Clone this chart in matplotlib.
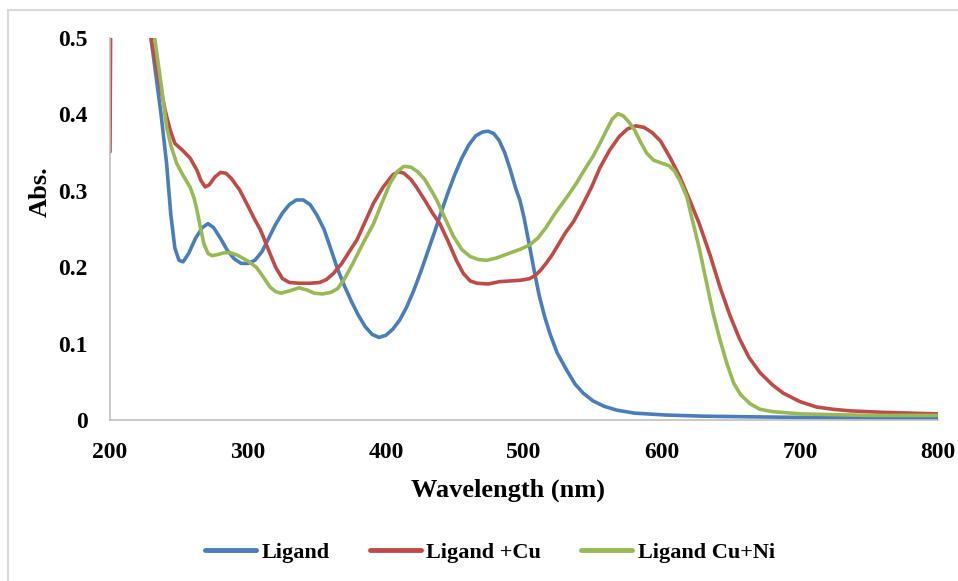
import matplotlib.pyplot as plt
import matplotlib.patches as patches

# UV-Vis spectra
wl_ligand = [215, 225, 230, 233, 237, 241, 244, 247, 250, 253, 257, 262, 267, 271, 275, 280, 285, 290,
             295, 300, 305, 310, 315, 320, 325, 330, 335, 340, 345, 350, 355, 360, 365, 370, 375, 380,
             385, 390, 395, 400, 405, 410, 415, 420, 425, 430, 435, 440, 445, 450, 455, 460, 465, 470,
             474, 478, 482, 486, 490, 494, 497, 500, 504, 507, 511, 515, 519, 524, 531, 537, 543, 550,
             558, 567, 580, 603, 630, 671, 720, 800]
abs_ligand = [0.9, 0.62, 0.495, 0.455, 0.40, 0.336, 0.27, 0.225, 0.209, 0.207, 0.218, 0.238, 0.252, 0.257,
              0.252, 0.238, 0.222, 0.211, 0.205, 0.205, 0.209, 0.22, 0.238, 0.256, 0.271, 0.282, 0.288,
              0.288, 0.282, 0.268, 0.25, 0.224, 0.197, 0.175, 0.155, 0.137, 0.122, 0.112, 0.108, 0.111,
              0.119, 0.131, 0.148, 0.169, 0.193, 0.219, 0.245, 0.272, 0.298, 0.322, 0.343, 0.36, 0.372,
              0.377, 0.378, 0.375, 0.366, 0.35, 0.328, 0.303, 0.288, 0.265, 0.228, 0.199, 0.163, 0.135,
              0.112, 0.088, 0.065, 0.047, 0.035, 0.025, 0.018, 0.013, 0.009, 0.0065, 0.005, 0.004, 0.003,
              0.002]

wl_cu = [200, 201, 225, 230, 235, 240, 243.5, 247, 252, 258, 263, 266, 269, 272, 276, 280, 284, 288, 294,
         300, 305, 309, 315, 320, 325, 330, 337, 345, 352, 357, 362, 368, 374, 379, 385, 391, 398, 405,
         409, 413, 418, 422, 428, 434, 439, 445, 451, 456, 461, 466, 474, 482, 490, 498, 504, 508, 512,
         516, 520, 526, 530, 536, 542, 549, 555, 562, 569, 575, 581, 587, 593, 599, 606, 613, 620, 627,
         635, 642, 649, 656, 663, 671, 680, 688, 700, 712, 724, 736, 760, 800]
abs_cu = [0.351, 0.7, 0.6, 0.497, 0.45, 0.405, 0.38, 0.362, 0.354, 0.343, 0.327, 0.313, 0.305, 0.308,
          0.318, 0.324, 0.323, 0.316, 0.301, 0.28, 0.262, 0.249, 0.222, 0.2, 0.185, 0.18, 0.179, 0.179,
          0.18, 0.184, 0.192, 0.205, 0.222, 0.236, 0.26, 0.284, 0.305, 0.321, 0.325, 0.323, 0.315, 0.305,
          0.288, 0.27, 0.257, 0.234, 0.209, 0.192, 0.182, 0.179, 0.178, 0.181, 0.182, 0.183, 0.185,
          0.189, 0.196, 0.205, 0.215, 0.233, 0.245, 0.26, 0.28, 0.305, 0.33, 0.353, 0.371, 0.381, 0.385,
          0.383, 0.376, 0.365, 0.343, 0.318, 0.288, 0.257, 0.215, 0.174, 0.138, 0.107, 0.082, 0.062,
          0.046, 0.035, 0.024, 0.017, 0.014, 0.012, 0.01, 0.008]

wl_cuni = [215, 225, 232.6, 237, 241, 244, 248.3, 253, 258, 261, 263, 265.5, 268, 271, 274, 279, 283, 287,
           292, 296, 300, 303, 306, 310, 316, 320, 324, 330, 337, 343, 348, 354, 360, 365, 370, 376, 383,
           391, 397, 403, 408, 413, 418, 423, 428, 433, 437, 443, 449, 455, 461, 467, 473, 480, 486, 492,
           498, 504, 510, 516, 522, 526, 532, 538, 544, 550, 555, 560, 564, 568, 572, 576, 580, 585, 589,
           594, 600, 605, 609, 613, 618, 622, 627, 632, 637, 642, 647, 652, 657, 664, 671, 680, 700, 750,
           800]
abs_cuni = [0.9, 0.62, 0.497, 0.44, 0.384, 0.36, 0.336, 0.32, 0.305, 0.29, 0.275, 0.252, 0.231, 0.218,
            0.215, 0.217, 0.219, 0.219, 0.216, 0.212, 0.208, 0.204, 0.2, 0.19, 0.174, 0.168, 0.166, 0.169,
            0.173, 0.17, 0.166, 0.165, 0.167, 0.172, 0.185, 0.205, 0.23, 0.257, 0.284, 0.31, 0.325, 0.332,
            0.331, 0.325, 0.315, 0.3, 0.287, 0.263, 0.24, 0.223, 0.214, 0.21, 0.209, 0.212, 0.216, 0.22,
            0.224, 0.229, 0.238, 0.252, 0.269, 0.279, 0.294, 0.31, 0.328, 0.345, 0.362, 0.38, 0.394,
            0.401, 0.398, 0.39, 0.38, 0.362, 0.349, 0.34, 0.336, 0.333, 0.326, 0.313, 0.292, 0.262, 0.225,
            0.182, 0.14, 0.105, 0.074, 0.048, 0.033, 0.021, 0.014, 0.011, 0.008, 0.006, 0.006]

font = 'Liberation Serif'

fig = plt.figure(figsize=(9.58, 5.81), dpi=100)
ax = fig.add_axes([110 / 958, 1 - 420 / 581, 828 / 958, 382 / 581])

style = dict(lw=2.6, solid_capstyle='round', solid_joinstyle='round')
ax.plot(wl_ligand, abs_ligand, color='#4A7EBB', label='Ligand', **style)
ax.plot(wl_cu, abs_cu, color='#BE4B48', label='Ligand +Cu', **style)
ax.plot(wl_cuni, abs_cuni, color='#98B954', label='Ligand Cu+Ni', **style)

ax.set_xlim(200, 800)
ax.set_ylim(0, 0.5)
ax.set_xticks([200, 300, 400, 500, 600, 700, 800])
ax.set_yticks([0, 0.1, 0.2, 0.3, 0.4, 0.5])
ax.set_yticklabels(['0', '0.1', '0.2', '0.3', '0.4', '0.5'])
ax.tick_params(length=0, pad=16)
for lab in ax.get_xticklabels() + ax.get_yticklabels():
    lab.set_fontfamily(font)
    lab.set_fontweight('bold')
    lab.set_fontsize(17)

ax.spines['top'].set_visible(False)
ax.spines['right'].set_visible(False)
for side in ['left', 'bottom']:
    ax.spines[side].set_color('#BFBFBF')
    ax.spines[side].set_linewidth(1.2)

fig.text(508 / 958, 1 - 490 / 581, 'Wavelength (nm)', family=font, weight='bold', fontsize=19,
         ha='center', va='center')
fig.text(40 / 958, 1 - 192 / 581, 'Abs.', family=font, weight='bold', fontsize=19,
         ha='center', va='center', rotation=90)

leg = fig.legend(loc='center', bbox_to_anchor=(490 / 958, 1 - 553 / 581), ncol=3, frameon=False,
                 prop={'family': font, 'weight': 'bold', 'size': 16},
                 handlelength=2.3, handletextpad=0.25, columnspacing=1.8)
for line in leg.get_lines():
    line.set_linewidth(3.5)

# light chart-area border
fig.patches.append(patches.Rectangle((8 / 958, -0.01), 1.0, 1 - 10 / 581 + 0.01,
                                     transform=fig.transFigure, fill=False,
                                     edgecolor='#D9D9D9', lw=1.5))

fig.savefig('out.png', dpi=100)
